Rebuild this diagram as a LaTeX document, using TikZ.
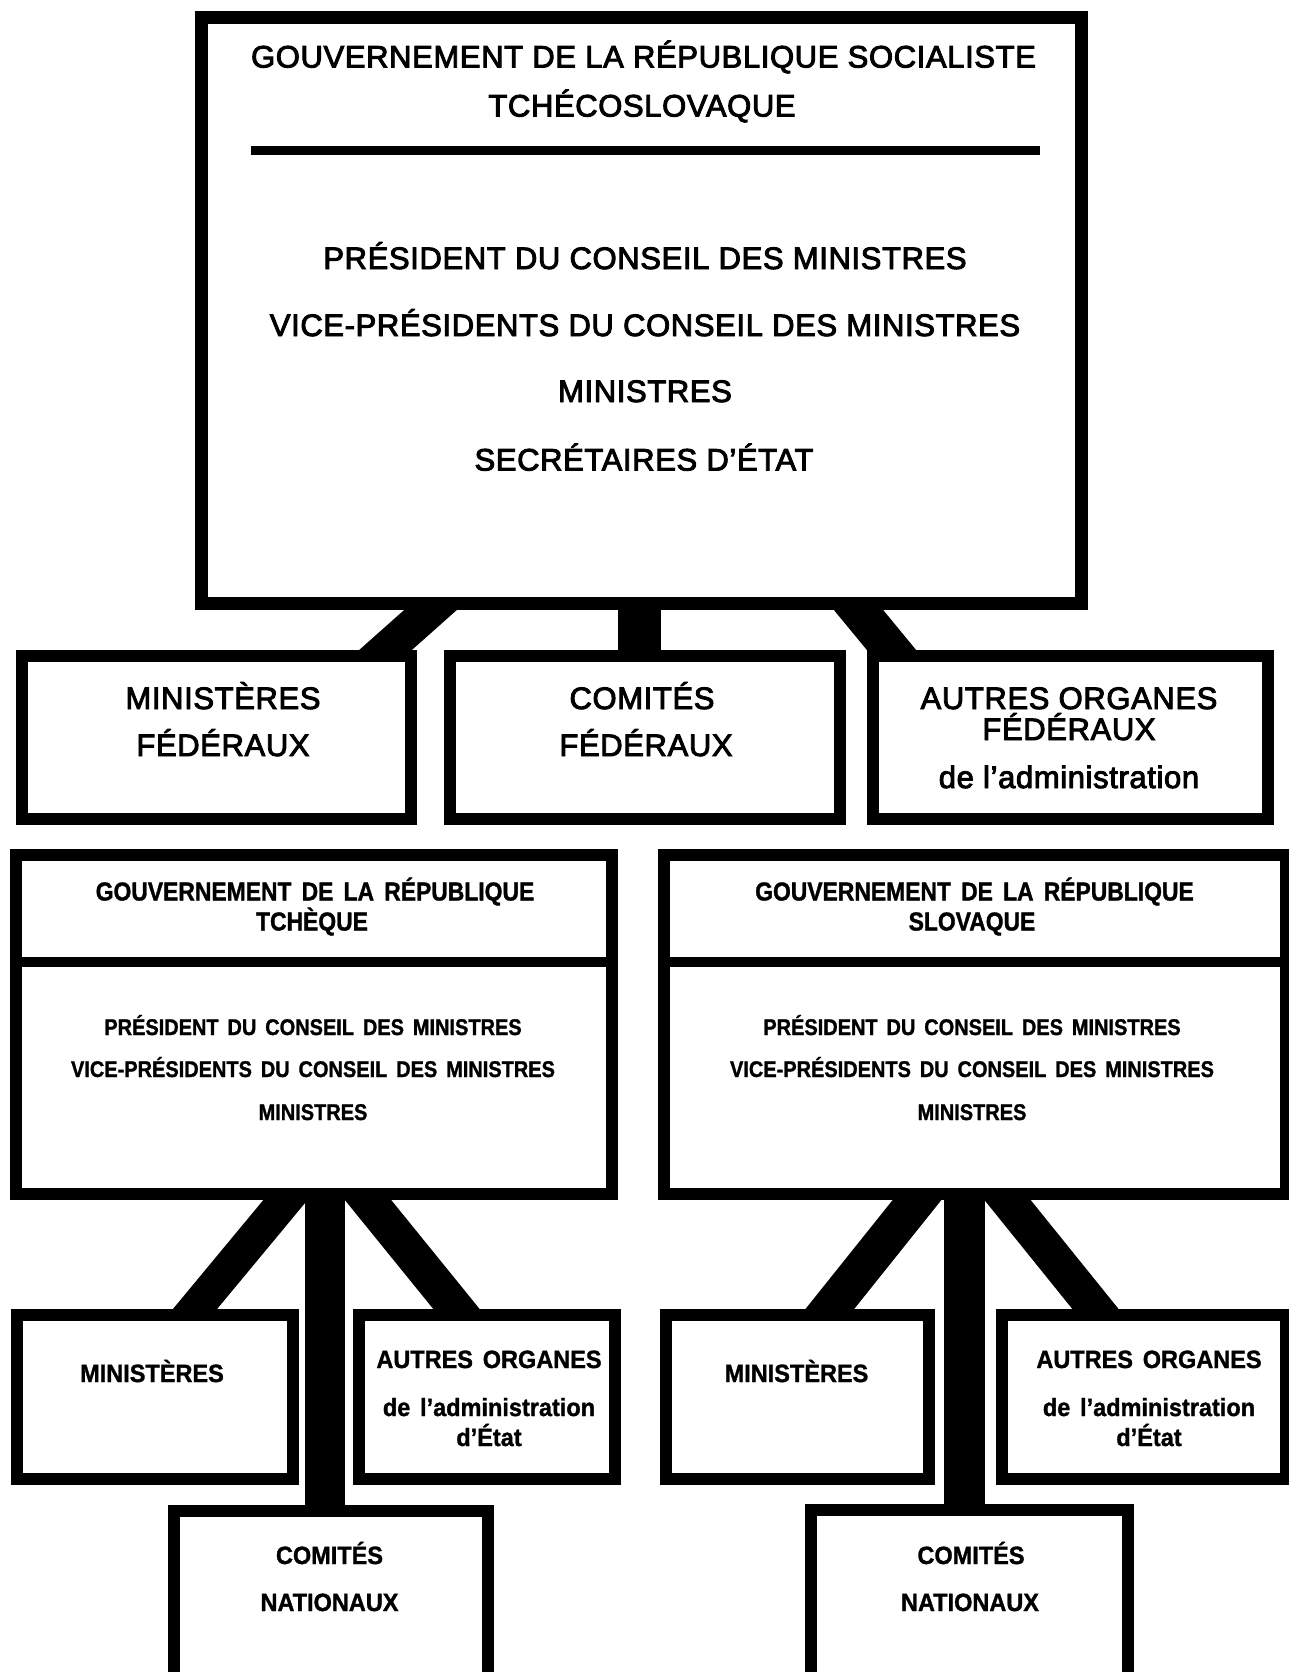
\documentclass[tikz,border=0pt]{standalone}
\usepackage{fontspec}
\setmainfont{Liberation Sans}
\newfontfamily\fmed{Liberation Sans}[FakeBold=3, LetterSpace=2]
\newfontfamily\fcond{Liberation Sans Bold}[FakeStretch=0.88, FakeBold=1.2, WordSpace=1.6]
\newfontfamily\flow{Liberation Sans Bold}[FakeStretch=0.94, FakeBold=1.2, WordSpace=1.5]
\usetikzlibrary{calc}
\pgfdeclarelayer{bg}
\pgfsetlayers{bg,main}
\tikzset{
  box/.style={draw, fill=white, line width=12pt, inner sep=0pt, outer sep=0pt},
  conn/.style={draw, line cap=butt},
  ttop/.style={anchor=base, inner sep=0pt, font=\fmed\fontsize{31}{36}\selectfont},
  tmid/.style={anchor=base, inner sep=0pt, font=\fmed\fontsize{31}{36}\selectfont},
  thead/.style={anchor=base, inner sep=0pt, font=\fcond\fontsize{26}{30}\selectfont},
  tbody/.style={anchor=base, inner sep=0pt, font=\fcond\fontsize{22.7}{28}\selectfont},
  tlow/.style={anchor=base, inner sep=0pt, font=\flow\fontsize{25}{30}\selectfont}
}
\begin{document}
\begin{tikzpicture}[x=1pt,y=-1pt]
\useasboundingbox (0,0) rectangle (1288,1672);
\begin{pgfonlayer}{bg}
\fill[white] (0,0) rectangle (1288,1672);
\end{pgfonlayer}

% boxes
\node[box, line width=13pt, minimum width=880, minimum height=586] (top) at (641.5,310.5) {};
\node[fill, inner sep=0pt, minimum width=789, minimum height=9] (rule) at (645.5,150.5) {};

\node[box, minimum width=389, minimum height=163] (m1) at (216.5,737.5) {};
\node[box, minimum width=390, minimum height=163] (m2) at (645,737.5) {};
\node[box, minimum width=395, minimum height=163] (m3) at (1070.5,737.5) {};

\node[box, minimum width=596, minimum height=339] (gl) at (314,1024.5) {};
\node[box, minimum width=622, minimum height=339] (gr) at (975,1024.5) {};
\draw[line width=10pt] (gl.west |- 0,962) -- (gl.east |- 0,962);
\draw[line width=10pt] (gr.west |- 0,962) -- (gr.east |- 0,962);

\node[box, minimum width=276, minimum height=164] (lmin) at (155,1397) {};
\node[box, minimum width=256, minimum height=164] (laut) at (487,1397) {};
\node[box, minimum width=314, minimum height=183] (lcom) at (331,1602.5) {};
\node[box, minimum width=263, minimum height=164] (rmin) at (797.5,1397) {};
\node[box, minimum width=284, minimum height=164] (raut) at (1144,1397) {};
\node[box, minimum width=317, minimum height=184] (rcom) at (969.5,1602) {};

% connectors (behind the boxes)
\begin{pgfonlayer}{bg}
\draw[conn, line width=35pt] ($(top.south)+(-182.9,-18.5)$) -- ($(m1.north)+(140.9,19)$);
\draw[conn, line width=43pt] ($(top.south)+(-2,-18.5)$) -- ($(m2.north)+(-5.5,19)$);
\draw[conn, line width=38pt] ($(top.south)+(196.4,-18.5)$) -- ($(m3.north)+(-158.4,19)$);

\draw[conn, line width=40pt] ($(gl.south)+(11,-14)$) -- ($(lcom.north)+(-6,19)$);
\draw[conn, line width=34pt] ($(gl.south)+(-12,-14)$) -- ($(lmin.north)+(22.6,15)$);
\draw[conn, line width=36pt] ($(gl.south)+(37.8,-14)$) -- ($(laut.north)+(-13.5,15)$);

\draw[conn, line width=41pt] ($(gr.south)+(-10.5,-14)$) -- ($(rcom.north)+(-5,20)$);
\draw[conn, line width=38pt] ($(gr.south)+(-42,-14)$) -- ($(rmin.north)+(15.5,15)$);
\draw[conn, line width=36pt] ($(gr.south)+(16.4,-14)$) -- ($(raut.north)+(-31.6,15)$);
\end{pgfonlayer}

% texts
\node[ttop] (a1) at (643.5,67.5) {GOUVERNEMENT DE LA RÉPUBLIQUE SOCIALISTE};
\node[ttop] (a2) at (642,116.5) {TCHÉCOSLOVAQUE};
\node[ttop] (a3) at (645,269) {PRÉSIDENT DU CONSEIL DES MINISTRES};
\node[ttop] (a4) at (645,336) {VICE-PRÉSIDENTS DU CONSEIL DES MINISTRES};
\node[ttop] (a5) at (645,402) {MINISTRES};
\node[ttop] (a6) at (644,470.5) {SECRÉTAIRES D’ÉTAT};

\node[tmid] (b1) at (223,709) {MINISTÈRES};
\node[tmid] (b2) at (223,756) {FÉDÉRAUX};
\node[tmid] (b3) at (642,709) {COMITÉS};
\node[tmid] (b4) at (646,756) {FÉDÉRAUX};
\node[tmid] (b5) at (1069,709) {AUTRES ORGANES};
\node[tmid] (b6) at (1069,740) {FÉDÉRAUX};
\node[tmid] (b7) at (1069,788) {de l’administration};

\node[thead] (c1) at (315,900.5) {GOUVERNEMENT DE LA RÉPUBLIQUE};
\node[thead] (c2) at (312,930.5) {TCHÈQUE};
\node[tbody] (c3) at (313,1035) {PRÉSIDENT DU CONSEIL DES MINISTRES};
\node[tbody] (c4) at (313,1077) {VICE-PRÉSIDENTS DU CONSEIL DES MINISTRES};
\node[tbody] (c5) at (313,1120) {MINISTRES};

\node[thead] (d1) at (974.5,900.5) {GOUVERNEMENT DE LA RÉPUBLIQUE};
\node[thead] (d2) at (972,930.5) {SLOVAQUE};
\node[tbody] (d3) at (972,1035) {PRÉSIDENT DU CONSEIL DES MINISTRES};
\node[tbody] (d4) at (972,1077) {VICE-PRÉSIDENTS DU CONSEIL DES MINISTRES};
\node[tbody] (d5) at (972,1120) {MINISTRES};

\node[tlow] (e1) at (152,1382) {MINISTÈRES};
\node[tlow] (e2) at (489,1368) {AUTRES ORGANES};
\node[tlow] (e3) at (489,1416) {de l’administration};
\node[tlow] (e4) at (489,1446) {d’État};
\node[tlow] (e5) at (329.5,1564) {COMITÉS};
\node[tlow] (e6) at (329.5,1611) {NATIONAUX};

\node[tlow] (f1) at (796.5,1382) {MINISTÈRES};
\node[tlow] (f2) at (1149,1368) {AUTRES ORGANES};
\node[tlow] (f3) at (1149,1416) {de l’administration};
\node[tlow] (f4) at (1149,1446) {d’État};
\node[tlow] (f5) at (971,1564) {COMITÉS};
\node[tlow] (f6) at (970,1611) {NATIONAUX};
\end{tikzpicture}
\end{document}
